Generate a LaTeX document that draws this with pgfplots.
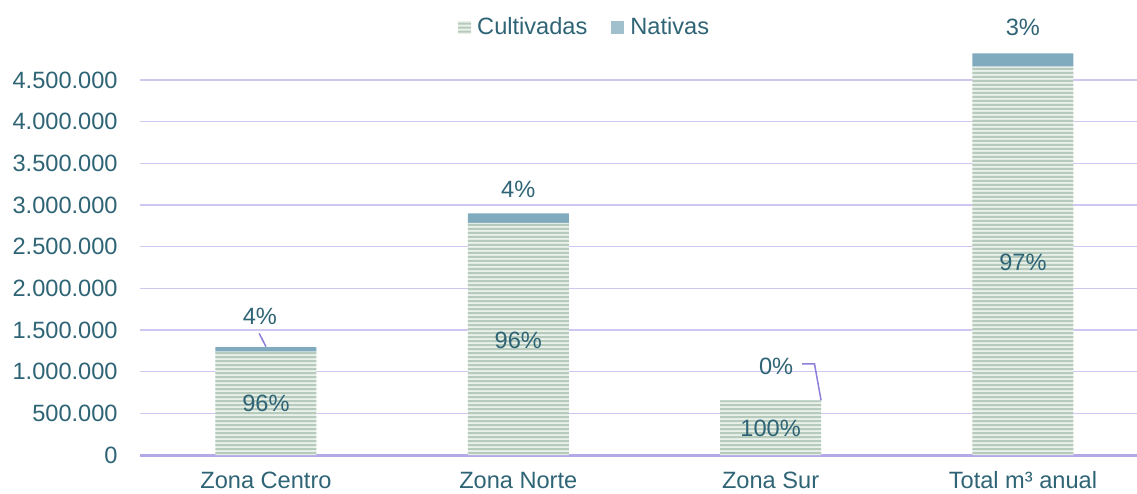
\documentclass[border=0pt]{standalone}
\usepackage{pgfplots}
\pgfplotsset{compat=1.18}
\usepackage{fontspec}
\setmainfont{Liberation Sans}
\definecolor{txt}{HTML}{2E6475}
\definecolor{gridc}{HTML}{CFC6F1}
\definecolor{axl}{HTML}{B4A8E6}
\definecolor{cultA}{HTML}{EAF1EA}
\definecolor{cultB}{HTML}{B7CBBD}
\definecolor{nat}{HTML}{80ABBE}
\definecolor{lead}{HTML}{8C7FD9}
\tikzset{stripes/.style={path picture={
  \path[fill=cultB, path picture={}]
  \foreach \k in {0,...,125} {
    ([yshift=\k*4pt+1pt]path picture bounding box.south west) rectangle ++(1100pt,2pt)
  };}}}
\begin{document}
\begin{tikzpicture}[font=\fontsize{23.6}{28}\selectfont]
\useasboundingbox (0,0) rectangle (1137pt,493pt);
\begin{axis}[
  at={(139.8pt,38pt)}, anchor=south west,
  scale only axis, width=1009.3pt, height=416.7pt,
  xmin=-0.5, xmax=3.5, ymin=0, ymax=5000000,
  clip=false,
  ybar stacked, bar width=101pt,
  xtick={0,1,2,3},
  xticklabels={Zona Centro, Zona Norte, Zona Sur, Total m³ anual},
  ytick={500000,1000000,1500000,2000000,2500000,3000000,3500000,4000000,4500000},
  yticklabels={500.000,1.000.000,1.500.000,2.000.000,2.500.000,3.000.000,3.500.000,4.000.000,4.500.000},
  extra y ticks={0}, extra y tick labels={0},
  extra y tick style={grid style={axl, line width=3pt}},
  scaled y ticks=false,
  ymajorgrids, grid style={gridc, line width=1.5pt},
  axis line style={draw=none},
  major tick length=0pt,
  tick label style={text=txt, font=\fontsize{23.6}{28}\selectfont},
  yticklabel style={inner sep=0pt, anchor=east, xshift=-22pt},
  xticklabel style={inner sep=0pt, anchor=base, yshift=-33.5pt},
  legend columns=2,
  legend style={at={(0.3153,1.0271)}, anchor=west, draw=none, fill=none,
    inner sep=0pt, nodes={inner sep=0pt, text=txt},
    /tikz/every odd column/.append style={column sep=6pt},
    /tikz/every even column/.append style={column sep=24pt},
    font=\fontsize{23.6}{28}\selectfont},
]
\addplot[fill=cultA, draw=none, stripes,
  legend image code/.code={\fill[cultA, path picture={}] (0pt,-6.5pt) rectangle (13pt,6.5pt);
     \fill[cultB, path picture={}] (0pt,-5.5pt) rectangle (13pt,-3.5pt) (0pt,-1.5pt) rectangle (13pt,0.5pt) (0pt,2.5pt) rectangle (13pt,4.5pt);}]
  coordinates {(0,1240000) (1,2785000) (2,655000) (3,4660000)};
\addlegendentry{Cultivadas}
\addplot[fill=nat, draw=none,
  legend image code/.code={\fill[nat!75!white] (0pt,-6.5pt) rectangle (13pt,6.5pt);}]
  coordinates {(0,55000) (1,115000) (2,3000) (3,160000)};
\addlegendentry{Nativas}
% label positions
\coordinate (c0) at (axis cs:0,624000);
\coordinate (c1) at (axis cs:1,1380000);
\coordinate (c2) at (axis cs:2,324000);
\coordinate (c3) at (axis cs:3,2316000);
\coordinate (n0) at (axis cs:-0.024,1668000);
\coordinate (n1) at (axis cs:1,3192000);
\coordinate (n2) at (axis cs:2.022,1060000);
\coordinate (n3) at (axis cs:3,5136000);
\coordinate (l0a) at (axis cs:-0.027,1460000);
\coordinate (l0b) at (axis cs:0,1300000);
\coordinate (l2a) at (axis cs:2.125,1092000);
\coordinate (l2b) at (axis cs:2.174,1092000);
\coordinate (l2c) at (axis cs:2.200,656000);
\end{axis}
\node[text=txt] at (c0) {96\%};
\node[text=txt] at (c1) {96\%};
\node[text=txt] at (c2) {100\%};
\node[text=txt] at (c3) {97\%};
\node[text=txt] at (n0) {4\%};
\node[text=txt] at (n1) {4\%};
\node[text=txt] at (n2) {0\%};
\node[text=txt] at (n3) {3\%};
\draw[lead, line width=1.5pt] (l0a) -- (l0b);
\draw[lead, line width=1.5pt] (l2a) -- (l2b) -- (l2c);
\end{tikzpicture}
\end{document}
